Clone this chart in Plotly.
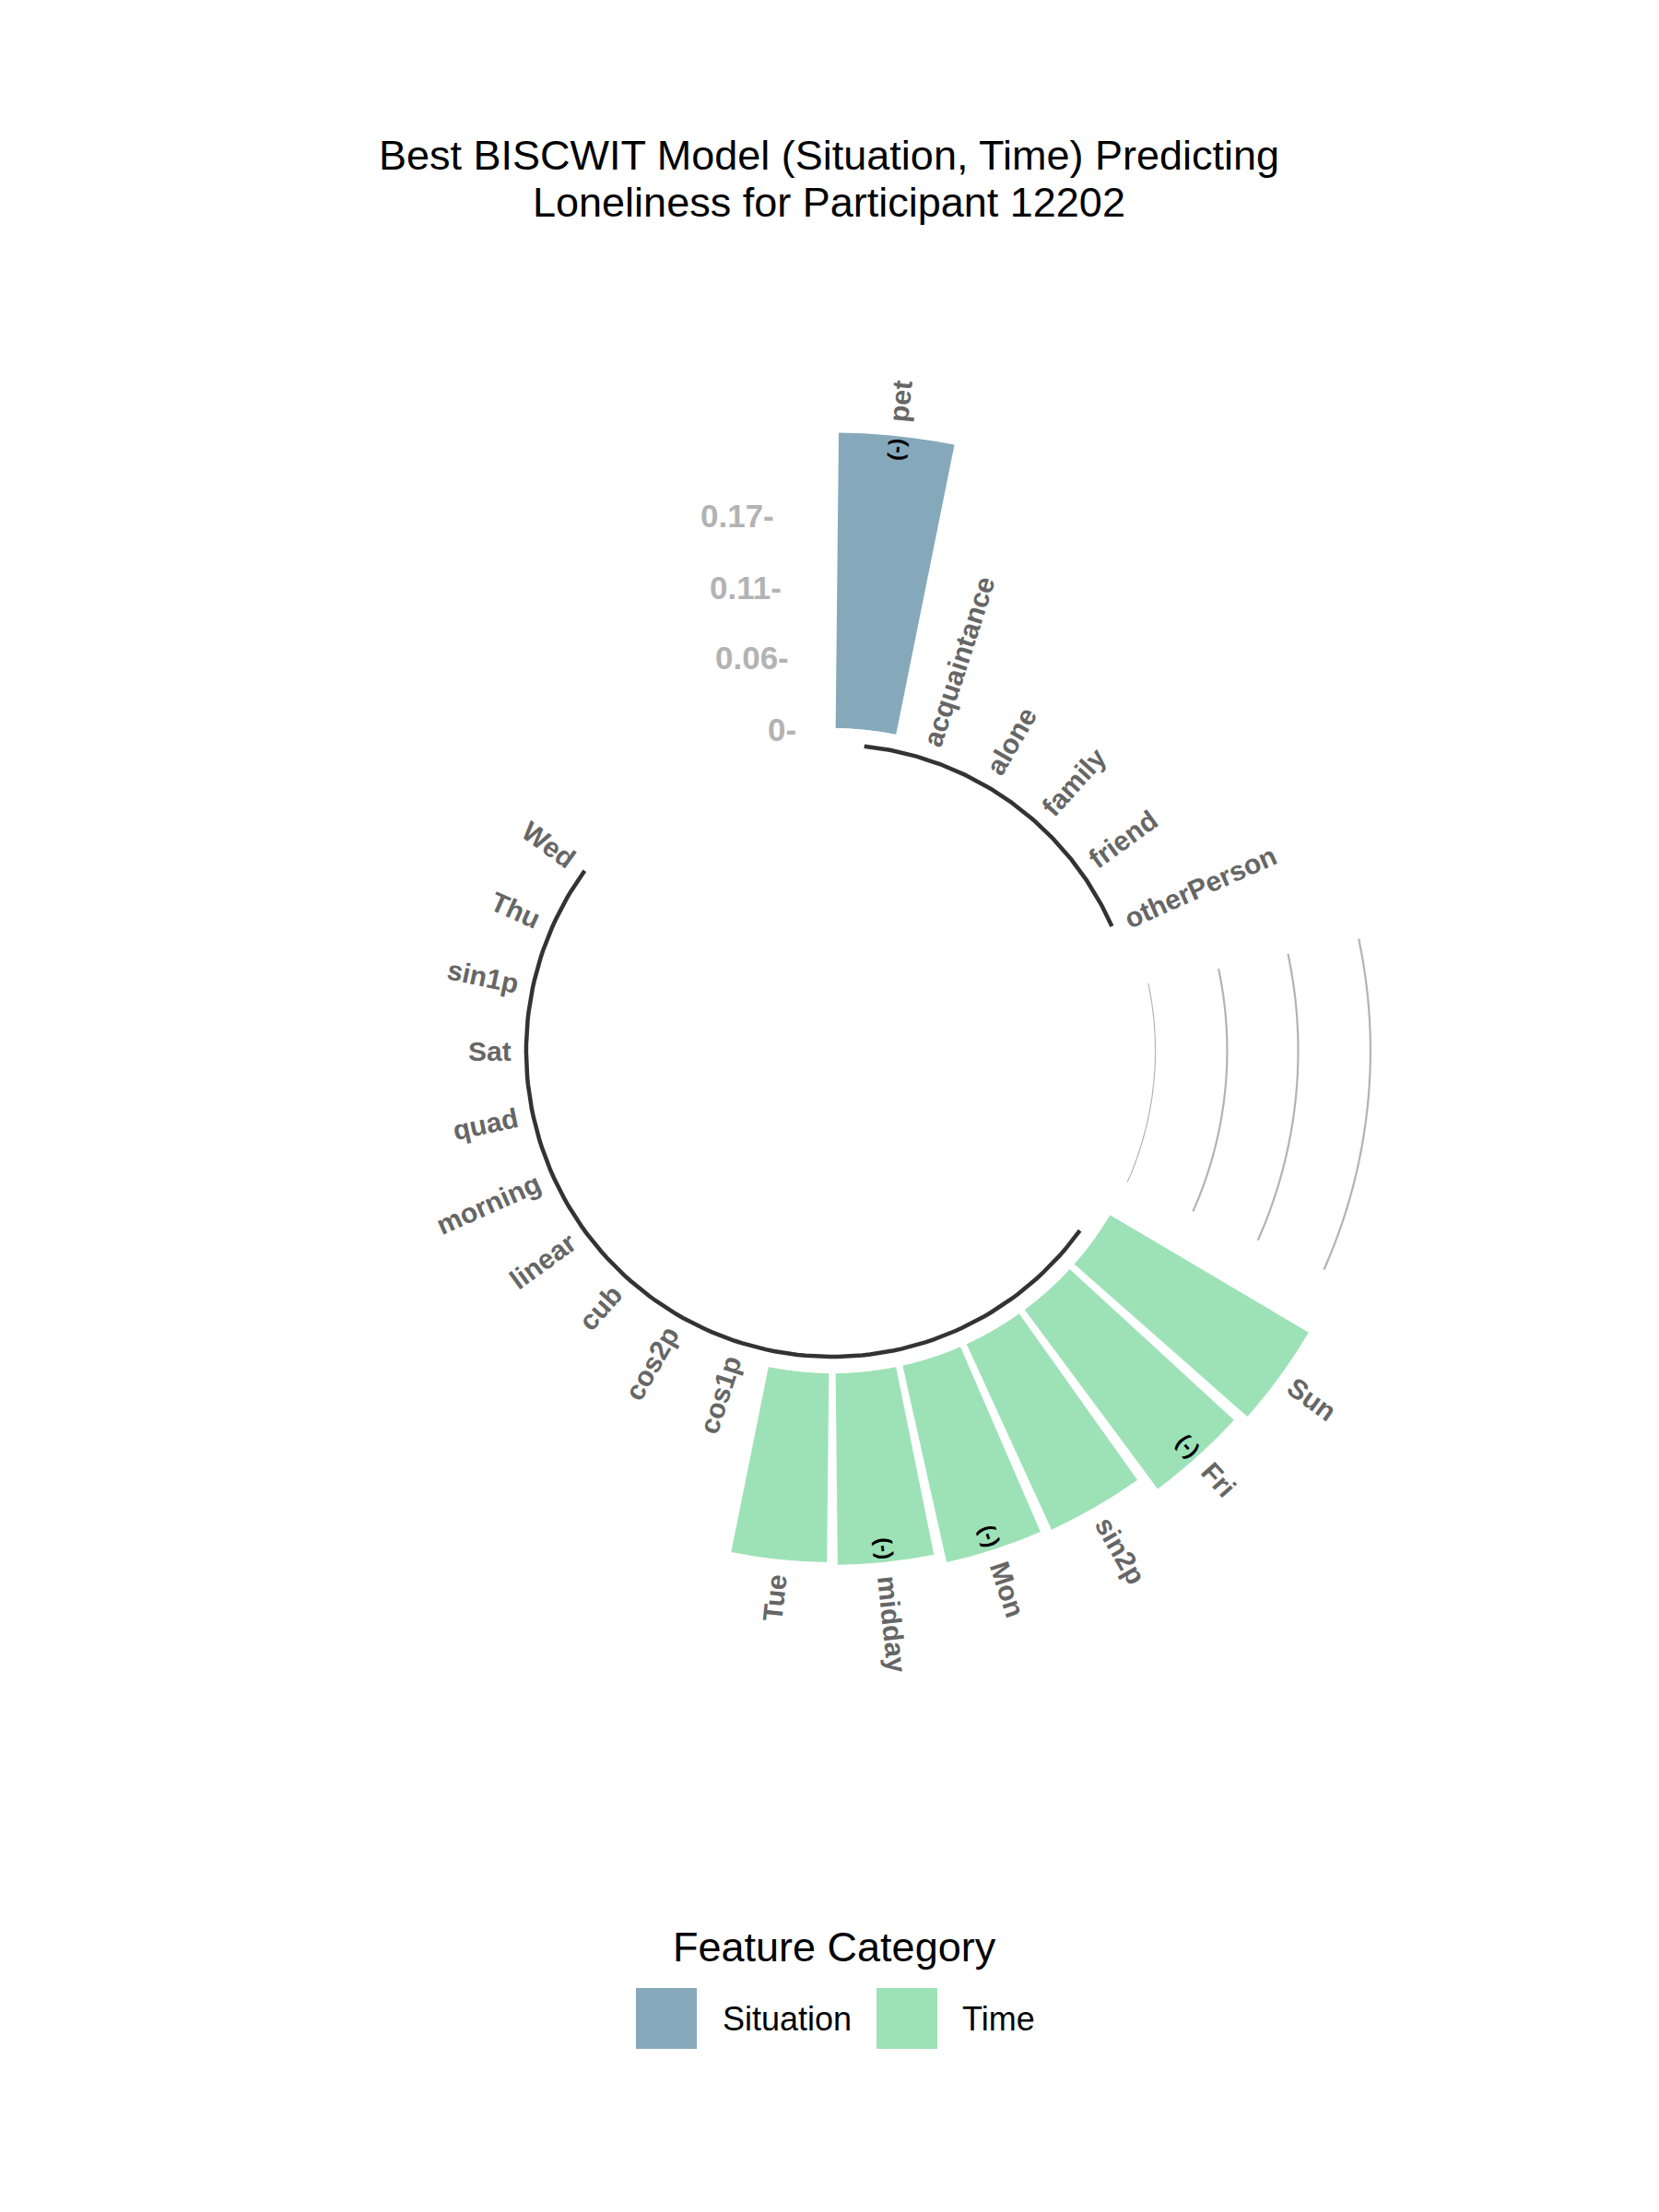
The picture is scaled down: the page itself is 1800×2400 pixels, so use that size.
import math
import numpy as np
import plotly.graph_objects as go

# ---------------- data ----------------
TITLE_LINES = ["Best BISCWIT Model (Situation, Time) Predicting",
               "Loneliness for Participant 12202"]
LEGEND_TITLE = "Feature Category"

situation_features = ["pet", "acquaintance", "alone", "family", "friend", "otherPerson"]
situation_values = [0.233, 0, 0, 0, 0, 0]
situation_negative = [True, False, False, False, False, False]

time_features = ["Sun", "Fri", "sin2p", "Mon", "midday", "Tue", "cos1p", "cos2p",
                 "cub", "linear", "morning", "quad", "Sat", "sin1p", "Thu", "Wed"]
time_values = [0.182, 0.176, 0.161, 0.159, 0.151, 0.149, 0, 0,
               0, 0, 0, 0, 0, 0, 0, 0]
time_negative = [False, True, False, True, True, False, False, False,
                 False, False, False, False, False, False, False, False]

group_names = ["Situation", "Time"]
group_colors = ["#85A9BB", "#9DE2B7"]
EMPTY_BARS = 4

grid_values = [0, 0.057, 0.113, 0.17]
grid_labels = ["0", "0.06", "0.11", "0.17"]

# ---------------- layout geometry ----------------
W, H = 1800, 2400
CX, CY = 903, 1140          # centre of the polar plot (px from top-left)
HOLE_PX = 350               # radius of value 0
PX_PER_UNIT = 1376          # px per radial unit
R_MAX = 0.30
R_PX = HOLE_PX + R_MAX * PX_PER_UNIT
R0 = HOLE_PX / PX_PER_UNIT  # offset of value 0 from centre in data units
RD = R_MAX + R0
BASE_LINE_R = -0.013        # radial position of group base lines
BAR_FRAC = 0.9

dom_x = [(CX - R_PX) / W, (CX + R_PX) / W]
dom_y = [1 - (CY + R_PX) / H, 1 - (CY - R_PX) / H]

FONT = "Liberation Sans, Arial, Helvetica, sans-serif"

# ---------------- assemble ids ----------------
groups = [
    ("Situation", situation_features, situation_values, situation_negative),
    ("Time", time_features, time_values, time_negative),
]
rows = []
group_ranges = []
nid = 0
for gname, feats, vals, negs in groups:
    start = nid + 1
    for f, v, n in zip(feats, vals, negs):
        nid += 1
        rows.append(dict(id=nid, name=f, value=v, neg=n, group=gname))
    group_ranges.append((gname, start, nid))
    nid += EMPTY_BARS
N = nid
STEP = 360.0 / N


def theta_of(i):
    return (i - 0.5) * STEP


def to_xy(r, th):
    rr = r + R0
    a = math.radians(th)
    return rr * math.sin(a), rr * math.cos(a)


# Arial bold approximate advance widths (per 1000 em)
BOLD_W = {'a': 556, 'b': 611, 'c': 556, 'd': 611, 'e': 556, 'f': 333, 'g': 611, 'h': 611,
          'i': 278, 'j': 278, 'k': 556, 'l': 278, 'm': 889, 'n': 611, 'o': 611, 'p': 611,
          'q': 611, 'r': 389, 's': 556, 't': 333, 'u': 611, 'v': 556, 'w': 778, 'x': 556,
          'y': 556, 'z': 500, 'F': 611, 'M': 833, 'P': 667, 'S': 667, 'T': 611, 'W': 944,
          '0': 556, '1': 556, '2': 556, '(': 333, ')': 333, '-': 333}


def text_len_units(s, size):
    return sum(BOLD_W.get(c, 600) for c in s) / 1000.0 * size / PX_PER_UNIT


fig = go.Figure()

# bars
for gname, color in zip(group_names, group_colors):
    sub = [r for r in rows if r["group"] == gname]
    fig.add_trace(go.Barpolar(
        r=[r["value"] for r in sub],
        theta=[theta_of(r["id"]) for r in sub],
        width=[STEP * BAR_FRAC] * len(sub),
        marker=dict(color=color, line=dict(width=0)),
        name=gname,
        showlegend=False,
    ))

# grey grid arcs in the gap before each group (except first)
for gi in range(1, len(group_ranges)):
    prev_end = group_ranges[gi - 1][2]
    start = group_ranges[gi][1]
    th = np.linspace(theta_of(prev_end + 1), theta_of(start - 1), 80)
    for gv in grid_values:
        fig.add_trace(go.Scatterpolar(
            r=[gv] * len(th), theta=th, mode="lines",
            line=dict(color="#B3B3B3", width=2.2),
            showlegend=False, hoverinfo="skip", cliponaxis=False,
        ))

# black base lines under each group (inside the hole -> cartesian overlay)
for gname, s, e in group_ranges:
    th = np.linspace(theta_of(s), theta_of(e), 120)
    pts = [to_xy(BASE_LINE_R, t) for t in th]
    fig.add_trace(go.Scatter(
        x=[p[0] for p in pts], y=[p[1] for p in pts], mode="lines",
        line=dict(color="#333333", width=4.5),
        showlegend=False, hoverinfo="skip", xaxis="x", yaxis="y",
    ))

annotations = []
LABEL_SIZE = 30
NEG_SIZE = 24
for r in rows:
    th = theta_of(r["id"])
    ang = th - 90 if th < 180 else th - 270
    offset = 0.011 if r["value"] > 0 else -0.001
    rs = r["value"] + offset
    rc = rs + text_len_units(r["name"], LABEL_SIZE) / 2
    x, y = to_xy(rc, th)
    annotations.append(dict(
        x=x, y=y, xref="x", yref="y", text=r["name"], showarrow=False,
        textangle=ang, xanchor="center", yanchor="middle",
        font=dict(family=FONT, size=LABEL_SIZE, color="#666666", weight="bold"),
    ))
    if r["neg"]:
        rn = r["value"] - 0.011
        x, y = to_xy(rn, th)
        annotations.append(dict(
            x=x, y=y, xref="x", yref="y", text="(-)", showarrow=False,
            textangle=ang, xanchor="center", yanchor="middle",
            font=dict(family=FONT, size=NEG_SIZE, color="#000000", weight="bold"),
        ))

# radial value labels
for gv, gl in zip(grid_values, grid_labels):
    x, y = to_xy(gv, theta_of(N))
    annotations.append(dict(
        x=x, y=y, xref="x", yref="y", text=gl + "-", showarrow=False,
        xanchor="right", yanchor="middle",
        font=dict(family=FONT, size=35, color="#B3B3B3", weight="bold"),
    ))

# title (two centred lines)
for line, ypx in zip(TITLE_LINES, [168, 219]):
    annotations.append(dict(
        x=0.4995, y=1 - ypx / H, xref="paper", yref="paper", text=line,
        showarrow=False, xanchor="center", yanchor="middle",
        font=dict(family=FONT, size=45, color="#000000"),
    ))

# custom legend
annotations.append(dict(
    x=906 / W, y=1 - 2112 / H, xref="paper", yref="paper", text=LEGEND_TITLE,
    showarrow=False, xanchor="center", yanchor="middle",
    font=dict(family=FONT, size=45, color="#000000"),
))
shapes = []
legend_px = [(690, 782), (951, 1042)]
for (sx, tx), gname, color in zip(legend_px, group_names, group_colors):
    shapes.append(dict(
        type="rect", xref="paper", yref="paper",
        x0=sx / W, x1=(sx + 66) / W, y0=1 - 2223 / H, y1=1 - 2157 / H,
        fillcolor=color, line=dict(width=0),
    ))
    annotations.append(dict(
        x=tx / W, y=1 - 2190 / H, xref="paper", yref="paper", text=gname,
        showarrow=False, xanchor="left", yanchor="middle",
        font=dict(family=FONT, size=36, color="#000000"),
    ))

fig.update_layout(
    width=W, height=H, autosize=False,
    margin=dict(l=0, r=0, t=0, b=0),
    paper_bgcolor="white", plot_bgcolor="rgba(0,0,0,0)",
    polar=dict(
        domain=dict(x=dom_x, y=dom_y),
        hole=HOLE_PX / R_PX,
        bgcolor="rgba(0,0,0,0)",
        radialaxis=dict(range=[0, R_MAX], visible=False, showgrid=False, showline=False),
        angularaxis=dict(direction="clockwise", rotation=90, visible=False,
                         showgrid=False, showline=False, thetaunit="degrees"),
    ),
    xaxis=dict(domain=dom_x, range=[-RD, RD], visible=False, showgrid=False,
               zeroline=False, fixedrange=True),
    yaxis=dict(domain=dom_y, range=[-RD, RD], visible=False, showgrid=False,
               zeroline=False, fixedrange=True),
    showlegend=False,
    annotations=annotations,
    shapes=shapes,
    font=dict(family=FONT),
)

fig.write_html("out.html")
